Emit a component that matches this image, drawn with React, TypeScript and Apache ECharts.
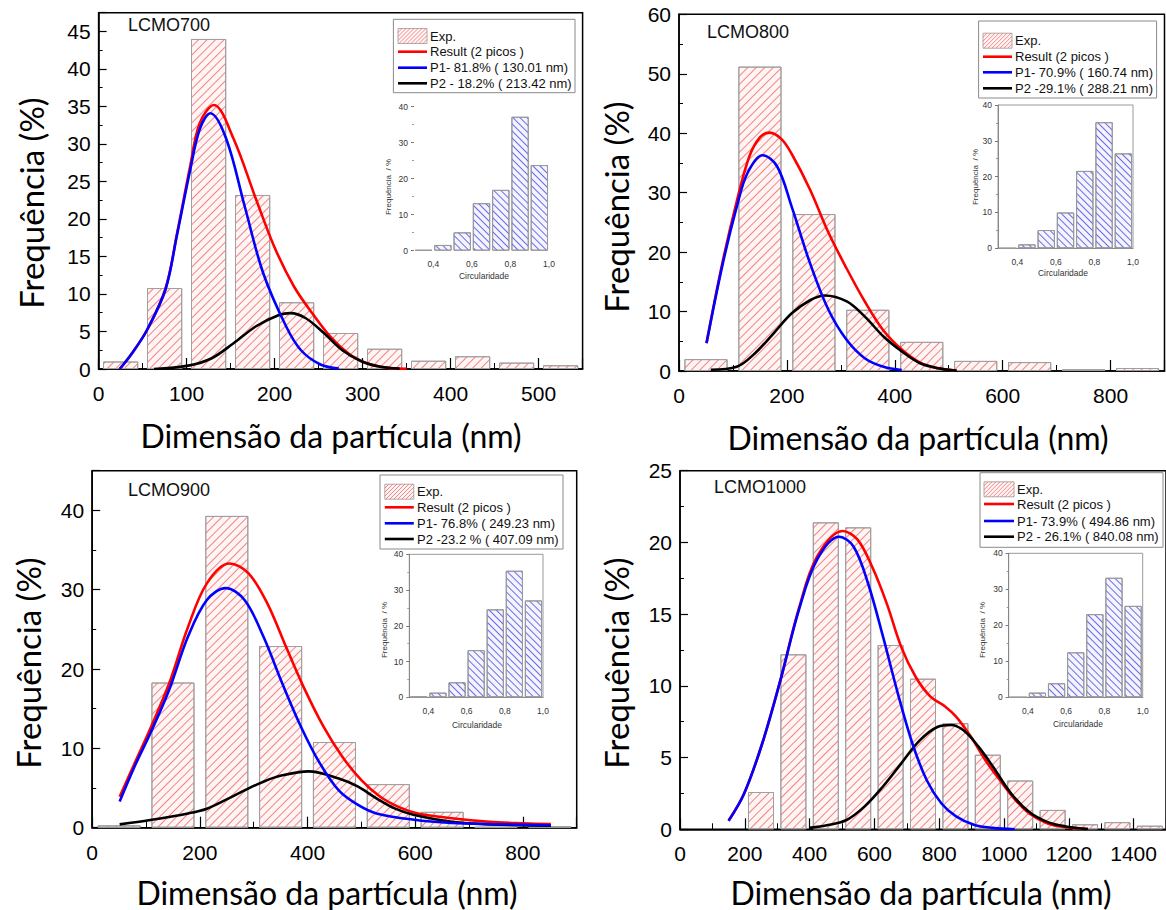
import React, { useEffect, useRef } from "react";
import * as echarts from "echarts";

// ---------- DATA ----------
const P700_BINS = [25, 75, 125, 175, 225, 275, 325, 375, 425, 475, 525];
const P700_FREQ = [1.0, 10.8, 44.0, 23.2, 8.9, 4.8, 2.7, 1.1, 1.7, 0.85, 0.5];
const P700_RESULT = [[24, 0], [38, 2.1], [55, 5.2], [76, 10.7], [89, 18], [104, 27], [115, 32.8], [131, 35.2], [153, 30.8], [179, 22.6], [200, 16.2], [222, 11], [243, 7.4], [265, 4.1], [286, 1.9], [307, 0.7], [329, 0.15], [350, 0.02]];
const P700_P1 = [[24, 0], [38, 2.1], [55, 5.2], [76, 10.6], [89, 17.8], [104, 26.5], [115, 32], [127, 34.1], [145, 30.7], [166, 21.7], [187, 12.8], [213, 5.7], [230, 2.5], [252, 0.6], [273, 0.05]];
const P700_P2 = [[63, 0], [102, 0.45], [128, 1.4], [153, 3.4], [179, 5.7], [205, 7.2], [218, 7.45], [235, 6.8], [256, 4.8], [277, 2.5], [299, 1.0], [320, 0.3], [342, 0.05]];

const P800_BINS = [50, 150, 250, 350, 450, 550, 650, 750, 850];
const P800_FREQ = [2.0, 51.2, 26.4, 10.3, 4.9, 1.7, 1.5, 0.3, 0.5];
const P800_RESULT = [[51, 4.7], [80, 18], [107, 28.5], [130, 36], [150, 39.3], [168, 40.1], [190, 39], [209, 36.5], [243, 30.5], [277, 23.3], [311, 17.2], [345, 11.6], [379, 6.8], [413, 3.6], [447, 1.4], [481, 0.45], [515, 0.05]];
const P800_P1 = [[51, 4.65], [80, 17.6], [107, 27.6], [127, 33.3], [155, 36.3], [182, 34.4], [209, 27.6], [243, 18.1], [277, 10.3], [311, 5.2], [345, 2.1], [379, 0.7], [413, 0.15]];
const P800_P2 = [[59, 0.2], [107, 0.7], [141, 3], [175, 6.3], [209, 9.7], [243, 11.9], [270, 12.7], [311, 11.7], [345, 9.1], [379, 5.8], [413, 3.3], [447, 1.3], [481, 0.45], [515, 0.05]];

const P900_BINS = [50, 150, 250, 350, 450, 550, 650, 750, 850];
const P900_FREQ = [0.3, 18.3, 39.3, 22.9, 10.8, 5.5, 2.0, 0.1, 0.2];
const P900_RESULT = [[51, 3.9], [80, 8.3], [108, 12.5], [143, 18.2], [178, 25.3], [213, 30.8], [255, 33.3], [290, 32.1], [325, 28.3], [360, 22.8], [395, 17.4], [430, 12.7], [465, 8.9], [500, 6.0], [535, 3.9], [570, 2.6], [605, 1.8], [668, 1.2], [738, 0.75], [801, 0.55], [852, 0.45]];
const P900_P1 = [[51, 3.3], [80, 7.9], [108, 11.9], [143, 17.4], [178, 24.1], [213, 28.7], [248, 30.2], [283, 28.7], [318, 24.1], [353, 18.2], [388, 12.7], [423, 8.1], [458, 4.7], [493, 2.9], [528, 1.8], [598, 1.0], [668, 0.6], [738, 0.45], [852, 0.3]];
const P900_P2 = [[51, 0.42], [108, 0.97], [178, 1.8], [213, 2.4], [248, 3.5], [283, 4.7], [318, 5.8], [353, 6.6], [402, 7.1], [458, 6.2], [493, 5.2], [528, 3.7], [563, 2.4], [598, 1.6], [668, 0.75], [738, 0.42], [852, 0.25]];

const P1000_BINS = [250, 350, 450, 550, 650, 750, 850, 950, 1050, 1150, 1250, 1350, 1450];
const P1000_FREQ = [2.6, 12.2, 21.4, 21.05, 12.85, 10.5, 7.4, 5.2, 3.4, 1.35, 0.35, 0.5, 0.25];
const P1000_RESULT = [[150, 0.6], [198, 2.5], [254, 6.0], [310, 10.4], [367, 15.4], [423, 19.0], [502, 20.8], [548, 20.2], [593, 18.3], [638, 15.75], [683, 12.7], [728, 10.6], [773, 9.25], [819, 8.55], [852, 7.85], [898, 6.45], [943, 4.8], [988, 3.4], [1033, 2.1], [1078, 1.1], [1135, 0.4], [1191, 0.14], [1259, 0.02]];
const P1000_P1 = [[150, 0.6], [198, 2.5], [254, 6.0], [310, 10.4], [367, 15.3], [423, 18.8], [491, 20.4], [536, 19.7], [581, 17.1], [627, 13.4], [672, 9.5], [717, 6.0], [762, 3.4], [807, 1.8], [852, 0.9], [909, 0.3], [965, 0.1], [1033, 0]];
const P1000_P2 = [[399, 0.1], [457, 0.3], [514, 0.65], [570, 1.6], [627, 3.0], [683, 4.6], [740, 6.2], [796, 7.15], [836, 7.27], [875, 6.9], [920, 5.8], [965, 4.4], [1022, 2.5], [1078, 1.2], [1135, 0.5], [1191, 0.2], [1259, 0.02]];

const CIRC_BINS = [0.35, 0.45, 0.55, 0.65, 0.75, 0.85, 0.95];
const C700 = [0.2, 1.6, 5.1, 13.2, 16.9, 37.2, 23.8];
const C800 = [0, 1.1, 5.1, 10.0, 21.6, 35.2, 26.5];
const C900 = [0.2, 1.3, 4.2, 13.2, 24.6, 35.4, 27.1];
const C1000 = [0, 1.3, 3.9, 12.5, 23.1, 33.2, 25.4];

const TAGS = ["LCMO700", "LCMO800", "LCMO900", "LCMO1000"];
const LEG700 = ["Exp.", "Result (2 picos )", "P1- 81.8% ( 130.01 nm)", "P2 - 18.2% ( 213.42 nm)"];
const LEG800 = ["Exp.", "Result (2 picos )", "P1- 70.9% ( 160.74 nm)", "P2 -29.1% ( 288.21 nm)"];
const LEG900 = ["Exp.", "Result (2 picos )", "P1- 76.8% ( 249.23 nm)", "P2 -23.2 % ( 407.09 nm)"];
const LEG1000 = ["Exp.", "Result (2 picos )", "P1- 73.9% ( 494.86 nm)", "P2 - 26.1% ( 840.08 nm)"];
const X_TITLE = "Dimensão da partícula (nm)";
const Y_TITLE = "Frequência (%)";
const INSET_X_TITLE = "Circularidade";
const INSET_Y_TITLE = "Frequência  / %";

// ---------- LAYOUT ----------
const PANELS = [
  {
    bins: P700_BINS, freq: P700_FREQ, res: P700_RESULT, p1: P700_P1, p2: P700_P2, circ: C700, leg: LEG700, tag: TAGS[0],
    grid: { left: 98.6, top: 12.7, width: 484, height: 356.3 }, xMax: 550, xInt: 100, yMax: 47.5, yInt: 5, showYMax: false, binW: 40,
    inset: { left: 414, top: 106.7, width: 135, height: 144, frame: false },
    insetYT: [388, 187], insetXT: [484, 276],
    legend: { x: 393.4, y: 19.3, w: 181.6, h: 73.4, rows: [36, 51.7, 67.7, 83.3], sx: 398, sw: 29, tx: 430 },
    tagPos: [128, 25], xT: [331, 435], yT: [31, 203],
  },
  {
    bins: P800_BINS, freq: P800_FREQ, res: P800_RESULT, p1: P800_P1, p2: P800_P2, circ: C800, leg: LEG800, tag: TAGS[1],
    grid: { left: 679, top: 14.3, width: 485.5, height: 356.7 }, xMax: 900, xInt: 200, yMax: 60, yInt: 10, showYMax: true, binW: 80,
    inset: { left: 998, top: 105, width: 135, height: 143.3, frame: true },
    insetYT: [975, 177], insetXT: [1063, 273],
    legend: { x: 978.6, y: 21, w: 178, h: 77, rows: [40.7, 56.7, 72.3, 88.3], sx: 983, sw: 29, tx: 1015 },
    tagPos: [707, 32], xT: [918, 437], yT: [616, 207],
  },
  {
    bins: P900_BINS, freq: P900_FREQ, res: P900_RESULT, p1: P900_P1, p2: P900_P2, circ: C900, leg: LEG900, tag: TAGS[2],
    grid: { left: 92.2, top: 470.7, width: 484.5, height: 357 }, xMax: 900, xInt: 200, yMax: 45, yInt: 10, showYMax: false, binW: 80,
    inset: { left: 409.3, top: 554.3, width: 133.7, height: 143, frame: true },
    insetYT: [384, 630], insetXT: [477, 725],
    legend: { x: 380, y: 475, w: 183, h: 74, rows: [491.7, 507.3, 523.3, 539], sx: 384.8, sw: 29, tx: 417 },
    tagPos: [128, 490], xT: [327, 892], yT: [28, 663],
  },
  {
    bins: P1000_BINS, freq: P1000_FREQ, res: P1000_RESULT, p1: P1000_P1, p2: P1000_P2, circ: C1000, leg: LEG1000, tag: TAGS[3],
    grid: { left: 680, top: 470.7, width: 488, height: 358.6 }, xMax: 1500, xInt: 200, yMax: 25, yInt: 5, showYMax: true, binW: 80,
    inset: { left: 1008.7, top: 553.3, width: 134, height: 144, frame: true },
    insetYT: [982, 630], insetXT: [1078, 724],
    legend: { x: 980, y: 472.7, w: 183, h: 74.6, rows: [489.3, 504, 521, 536.7], sx: 984, sw: 30, tx: 1017 },
    tagPos: [714, 487], xT: [921, 892], yT: [616, 663],
  },
];

const ARIAL = "'Liberation Sans', Arial, sans-serif";
const TITLE_FONT = "Lato, 'Open Sans', sans-serif";

function hatchLines(x: number, y: number, w: number, h: number, step: number, color: string) {
  const out: any[] = [];
  for (let c = -h; c < w; c += step) {
    const t0 = Math.max(0, -c);
    const t1 = Math.min(h, w - c);
    if (t1 <= t0) continue;
    out.push({
      type: "line", silent: true, z: 101,
      shape: { x1: x + c + t0, y1: y + h - t0, x2: x + c + t1, y2: y + h - t1 },
      style: { stroke: color, lineWidth: 0.8 },
    });
  }
  return out;
}

function buildOption() {
  const grid: any[] = [];
  const xAxis: any[] = [];
  const yAxis: any[] = [];
  const series: any[] = [];
  const graphic: any[] = [];
  const plain = (v: number) => String(Math.round(v * 100) / 100);

  PANELS.forEach((p, i) => {
    grid.push({ ...p.grid, show: true, borderColor: "#000", borderWidth: 1.5, backgroundColor: "transparent", containLabel: false });
    xAxis.push({
      type: "value", gridIndex: i, min: 0, max: p.xMax, interval: p.xInt,
      axisLine: { show: true, lineStyle: { color: "#000", width: 1.5 } },
      axisTick: { show: true, inside: true, length: 11, lineStyle: { color: "#000", width: 1.2 } },
      minorTick: { show: true, splitNumber: 2, length: 6, lineStyle: { color: "#000", width: 1 } },
      splitLine: { show: false },
      axisLabel: { fontSize: 21, fontFamily: ARIAL, color: "#000", margin: 14, showMaxLabel: false, formatter: plain },
    });
    yAxis.push({
      type: "value", gridIndex: i, min: 0, max: p.yMax, interval: p.yInt,
      axisLine: { show: true, lineStyle: { color: "#000", width: 1.5 } },
      axisTick: { show: true, inside: true, length: 8, lineStyle: { color: "#000", width: 1.2 } },
      minorTick: { show: true, splitNumber: 2, length: 4, lineStyle: { color: "#000", width: 1 } },
      splitLine: { show: false },
      axisLabel: { fontSize: 21, fontFamily: ARIAL, color: "#000", margin: 8, showMaxLabel: p.showYMax, formatter: plain },
    });
  });

  PANELS.forEach((p, i) => {
    const gi = 4 + i;
    grid.push({ ...p.inset, show: p.inset.frame, borderColor: "#999", borderWidth: 1, backgroundColor: "transparent" });
    xAxis.push({
      type: "value", gridIndex: gi, min: 0.3, max: 1.0, interval: 0.1,
      axisLine: { show: p.inset.frame, lineStyle: { color: "#888", width: 1 } },
      axisTick: { show: false },
      splitLine: { show: false },
      axisLabel: {
        fontSize: 8.5, fontFamily: ARIAL, color: "#333", margin: 9, showMaxLabel: true,
        formatter: (v: number) => {
          const k = Math.round(v * 10);
          return k % 2 === 0 && k >= 4 ? (k / 10).toFixed(1).replace(".", ",") : "";
        },
      },
    });
    yAxis.push({
      type: "value", gridIndex: gi, min: 0, max: 40, interval: 10,
      axisLine: { show: p.inset.frame, lineStyle: { color: "#888", width: 1 } },
      axisTick: { show: true, inside: false, length: 3, lineStyle: { color: "#777", width: 1 } },
      minorTick: { show: true, splitNumber: 2, length: 2, lineStyle: { color: "#999", width: 1 } },
      splitLine: { show: false },
      axisLabel: { fontSize: 8.5, fontFamily: ARIAL, color: "#333", margin: 6 },
    });
  });

  PANELS.forEach((p, i) => {
    const barPx = (p.binW * p.grid.width) / p.xMax;
    series.push({
      type: "bar", name: "Exp.", xAxisIndex: i, yAxisIndex: i, silent: true, z: 1,
      barWidth: barPx,
      data: p.bins.map((b, k) => [b, p.freq[k]]),
      itemStyle: {
        color: "#fff5f5", borderColor: "#a0a0a0", borderWidth: 1,
        decal: { symbol: "rect", symbolSize: 1, color: "rgba(236,70,70,0.65)", dashArrayX: [1, 0], dashArrayY: [1, 5], rotation: -Math.PI / 4 },
      },
    });
    const line = (data: number[][], color: string, z: number) => ({
      type: "line", xAxisIndex: i, yAxisIndex: i, silent: true, z,
      data, smooth: 0.35, showSymbol: false, symbol: "none",
      lineStyle: { color, width: 2.6 },
    });
    series.push(line(p.res, "#ff0000", 3));
    series.push(line(p.p2, "#000000", 4));
    series.push(line(p.p1, "#0000ff", 5));

    const insetW = (0.09 * p.inset.width) / 0.7;
    series.push({
      type: "bar", xAxisIndex: 4 + i, yAxisIndex: 4 + i, silent: true, z: 2,
      barWidth: insetW,
      data: CIRC_BINS.map((b, k) => [b, p.circ[k]]),
      itemStyle: {
        color: "#f4f4fc", borderColor: "#999", borderWidth: 1,
        decal: { symbol: "rect", symbolSize: 1, color: "rgba(60,60,235,0.75)", dashArrayX: [1, 0], dashArrayY: [1, 4], rotation: Math.PI / 4 },
      },
    });

    // legend
    const L = p.legend;
    graphic.push({ type: "rect", z: 100, silent: true, shape: { x: L.x, y: L.y, width: L.w, height: L.h }, style: { fill: "#fff", stroke: "#8a8a8a", lineWidth: 1 } });
    const sy = L.rows[0] - 7.5;
    graphic.push({ type: "rect", z: 100, silent: true, shape: { x: L.sx, y: sy, width: L.sw, height: 15 }, style: { fill: "#fff3f3", stroke: "#999", lineWidth: 0.8 } });
    graphic.push(...hatchLines(L.sx, sy, L.sw, 15, 4, "rgba(236,80,80,0.8)"));
    const colors = ["#ff0000", "#0000ff", "#000000"];
    for (let r = 1; r < 4; r++) {
      graphic.push({ type: "line", z: 101, silent: true, shape: { x1: L.sx, y1: L.rows[r], x2: L.sx + L.sw, y2: L.rows[r] }, style: { stroke: colors[r - 1], lineWidth: 2.6 } });
    }
    for (let r = 0; r < 4; r++) {
      graphic.push({ type: "text", z: 102, silent: true, x: L.tx, y: L.rows[r], style: { text: p.leg[r], fontSize: 13, fontFamily: ARIAL, fill: "#111", align: "left", verticalAlign: "middle" } });
    }

    // tag
    graphic.push({ type: "text", z: 102, silent: true, x: p.tagPos[0], y: p.tagPos[1], style: { text: p.tag, fontSize: 18, fontFamily: ARIAL, fill: "#111", align: "left", verticalAlign: "middle" } });

    // titles
    graphic.push({ type: "text", z: 102, silent: true, x: p.xT[0], y: p.xT[1], style: { text: X_TITLE, fontSize: 32, fontFamily: TITLE_FONT, fill: "#000", align: "center", verticalAlign: "middle" } });
    graphic.push({ type: "text", z: 102, silent: true, x: p.yT[0], y: p.yT[1], rotation: Math.PI / 2, style: { text: Y_TITLE, fontSize: 33, fontFamily: TITLE_FONT, fill: "#000", align: "center", verticalAlign: "middle" } });

    // inset titles
    graphic.push({ type: "text", z: 102, silent: true, x: p.insetXT[0], y: p.insetXT[1], style: { text: INSET_X_TITLE, fontSize: 8.5, fontFamily: ARIAL, fill: "#333", align: "center", verticalAlign: "middle" } });
    graphic.push({ type: "text", z: 102, silent: true, x: p.insetYT[0], y: p.insetYT[1], rotation: Math.PI / 2, style: { text: INSET_Y_TITLE, fontSize: 8, fontFamily: ARIAL, fill: "#333", align: "center", verticalAlign: "middle" } });
  });

  return { animation: false, backgroundColor: "#fff", grid, xAxis, yAxis, series, graphic };
}

export default function App() {
  const ref = useRef<HTMLDivElement>(null);
  useEffect(() => {
    if (!ref.current) return;
    const chart = echarts.init(ref.current, null, { renderer: "svg" });
    chart.setOption(buildOption() as any);
    return () => chart.dispose();
  }, []);
  return <div ref={ref} style={{ position: "absolute", left: 0, top: 0, width: 1166, height: 910, background: "#fff" }} />;
}
